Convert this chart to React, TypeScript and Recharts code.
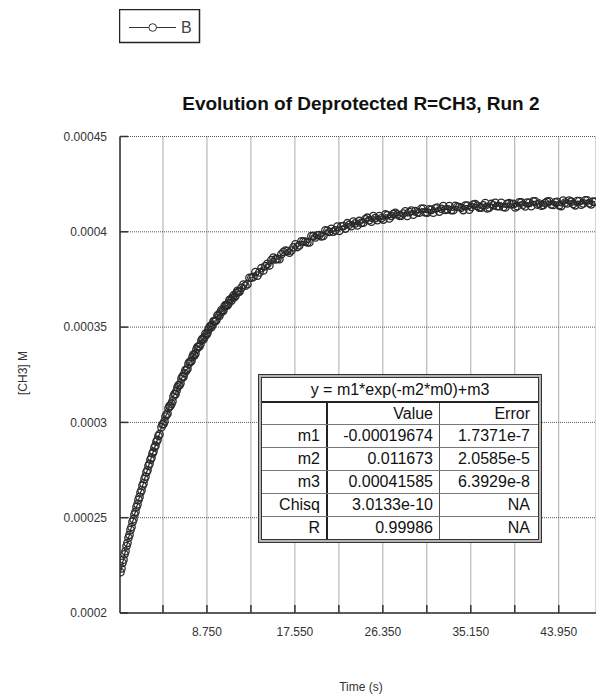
import React from 'react';
import { LineChart, Line, XAxis, YAxis, CartesianGrid } from 'recharts';

// [CH3] (micro-molar) against time (s).
// Pass A: the coarser sampling; pass B: the readings that fall in between.
const timeA = [
  0.1, 0.2, 0.3, 0.4, 0.5, 0.6, 0.7, 0.8, 0.9, 1.0,
  1.1, 1.2, 1.3, 1.4, 1.5, 1.6, 1.7, 1.8, 1.9, 2.0,
  2.1, 2.2, 2.3, 2.4, 2.5, 2.6, 2.7, 2.8, 2.9, 3.0,
  3.1, 3.2, 3.3, 3.4, 3.5, 3.6, 3.7, 3.8, 3.9, 4.0,
  4.2, 4.4, 4.6, 4.8, 5.0, 5.2, 5.4, 5.6, 5.8, 6.0,
  6.2, 6.4, 6.6, 6.8, 7.0, 7.2, 7.4, 7.6, 7.8, 8.0,
  8.2, 8.4, 8.6, 8.8, 9.0, 9.2, 9.4, 9.6, 9.8, 10.0,
  10.2, 10.4, 10.6, 10.8, 11.0, 11.2, 11.4, 11.6, 11.8, 12.0,
  12.4, 12.8, 13.2, 13.6, 14.0, 14.4, 14.8, 15.2, 15.6, 16.0,
  16.4, 16.8, 17.2, 17.6, 18.0, 18.4, 18.8, 19.2, 19.6, 20.0,
  20.4, 20.8, 21.2, 21.6, 22.0, 22.4, 22.8, 23.2, 23.6, 24.0,
  24.4, 24.8, 25.2, 25.6, 26.0, 26.4, 26.8, 27.2, 27.6, 28.0,
  28.4, 28.8, 29.2, 29.6, 30.0, 30.4, 30.8, 31.2, 31.6, 32.0,
  32.4, 32.8, 33.2, 33.6, 34.0, 34.4, 34.8, 35.2, 35.6, 36.0,
  36.4, 36.8, 37.2, 37.6, 38.0, 38.4, 38.8, 39.2, 39.6, 40.0,
  40.4, 40.8, 41.2, 41.6, 42.0, 42.4, 42.8, 43.2, 43.6, 44.0,
  44.4, 44.8, 45.2, 45.6, 46.0, 46.4, 46.8, 47.2, 47.6,
];

const concA = [
  221.4, 223.4, 226.3, 228.0, 230.8, 232.4, 235.1, 236.8, 239.5, 241.0,
  243.6, 245.1, 247.8, 249.2, 251.7, 253.1, 255.6, 257.0, 259.4, 260.8,
  263.2, 264.4, 266.8, 268.0, 270.3, 271.6, 273.9, 274.9, 277.2, 278.3,
  280.5, 281.5, 283.7, 284.7, 286.9, 287.8, 289.9, 290.8, 292.9, 293.8,
  297.5, 299.2, 303.1, 304.6, 308.5, 309.8, 313.6, 314.8, 318.4, 319.5,
  323.0, 323.9, 327.5, 328.2, 331.7, 332.3, 335.6, 336.1, 339.5, 339.9,
  343.1, 343.5, 346.6, 346.9, 349.9, 350.0, 353.0, 353.1, 356.0, 355.9,
  358.9, 358.8, 361.6, 361.4, 364.2, 363.9, 366.6, 366.3, 369.0, 368.6,
  372.3, 372.5, 375.9, 378.9, 378.7, 379.7, 383.2, 385.2, 385.5, 385.6,
  389.4, 389.9, 390.2, 393.4, 392.9, 394.9, 394.4, 397.8, 397.0, 398.3,
  397.8, 400.5, 401.6, 400.8, 400.5, 403.0, 404.5, 402.9, 404.4, 405.7,
  404.8, 407.4, 405.3, 407.2, 408.2, 406.4, 408.7, 408.3, 410.0, 408.4,
  409.6, 408.3, 411.1, 410.9, 410.0, 412.2, 410.1, 411.5, 412.3, 410.6,
  413.5, 411.8, 411.4, 413.6, 413.0, 411.4, 413.8, 413.0, 414.5, 412.7,
  413.9, 412.3, 414.6, 415.2, 413.4, 413.0, 414.7, 414.4, 412.8, 415.5,
  414.2, 415.3, 413.4, 416.0, 414.8, 414.0, 415.8, 414.3, 415.5, 413.9,
  416.4, 414.9, 415.8, 413.9, 416.1, 414.9, 416.5, 414.4, 415.7,
];

const timeB = [
  4.3, 4.5, 4.7, 4.9, 5.1, 5.3, 5.5, 5.7, 5.9, 6.1,
  6.3, 6.5, 6.7, 6.9, 7.1, 7.3, 7.5, 7.7, 7.9, 8.1,
  8.3, 8.5, 8.7, 8.9, 9.1, 9.3, 9.5, 9.7, 9.9, 10.1,
  10.3, 10.5, 10.7, 10.9, 11.1, 11.3, 11.5, 11.7, 11.9, 12.2,
  12.6, 13.0, 13.4, 13.8, 14.2, 14.6, 15.0, 15.4, 15.8, 16.2,
  16.6, 17.0, 17.4, 17.8, 18.2, 18.6, 19.0, 19.4, 19.8, 20.2,
  20.6, 21.0, 21.4, 21.8, 22.2, 22.6, 23.0, 23.4, 23.8, 24.2,
  24.6, 25.0, 25.4, 25.8, 26.2, 26.6, 27.0, 27.4, 27.8, 28.2,
  28.6, 29.0, 29.4, 29.8, 30.2, 30.6, 31.0, 31.4, 31.8, 32.2,
  32.6, 33.0, 33.4, 33.8, 34.2, 34.6, 35.0, 35.4, 35.8, 36.2,
  36.6, 37.0, 37.4, 37.8, 38.2, 38.6, 39.0, 39.4, 39.8, 40.2,
  40.6, 41.0, 41.4, 41.8, 42.2, 42.6, 43.0, 43.4, 43.8, 44.2,
  44.6, 45.0, 45.4, 45.8, 46.2, 46.6, 47.0, 47.4,
];

const concB = [
  298.9, 300.5, 304.1, 307.4, 308.8, 311.1, 314.9, 316.5, 319.4, 320.5,
  324.1, 325.8, 327.3, 330.7, 331.7, 334.3, 335.2, 338.4, 339.7, 341.0,
  343.9, 344.8, 346.0, 348.7, 350.7, 351.1, 353.1, 353.7, 356.5, 357.7,
  358.2, 360.8, 361.4, 362.3, 364.6, 365.4, 365.7, 368.0, 368.5, 370.6,
  371.7, 375.9, 376.3, 377.0, 380.9, 382.0, 382.3, 386.5, 385.8, 388.2,
  390.1, 389.1, 391.9, 392.0, 395.0, 394.8, 394.4, 397.7, 398.2, 397.6,
  400.8, 399.9, 400.1, 402.7, 402.9, 401.7, 403.7, 405.4, 403.3, 404.7,
  406.6, 406.1, 408.2, 406.1, 407.1, 409.1, 407.0, 409.3, 409.1, 408.4,
  410.7, 410.3, 409.0, 410.2, 412.1, 410.2, 411.8, 410.0, 412.7, 412.1,
  411.5, 413.5, 411.3, 413.1, 412.6, 413.8, 411.6, 414.3, 413.6, 412.7,
  415.1, 412.7, 413.9, 413.4, 415.2, 412.8, 415.0, 414.7, 413.4, 415.4,
  413.3, 415.2, 416.0, 414.3, 413.7, 415.1, 416.0, 414.1, 415.7, 413.5,
  415.3, 416.4, 414.6, 416.1, 414.2, 416.5, 415.0, 415.8,
];

const xTicks = [4.35, 8.75, 13.15, 17.55, 21.95, 26.35, 30.75, 35.15, 39.55, 43.95];
const xTickLabels = ['', '8.750', '', '17.550', '', '26.350', '', '35.150', '', '43.950'];
const yTicks = [200, 250, 300, 350, 400, 450];
const yTickLabels = ['0.0002', '0.00025', '0.0003', '0.00035', '0.0004', '0.00045'];

const fitEquation = 'y = m1*exp(-m2*m0)+m3';
const fitHeaders = ['', 'Value', 'Error'];
const fitNames = ['m1', 'm2', 'm3', 'Chisq', 'R'];
const fitValues = ['-0.00019674', '0.011673', '0.00041585', '3.0133e-10', '0.99986'];
const fitErrors = ['1.7371e-7', '2.0585e-5', '6.3929e-8', 'NA', 'NA'];

const data = [
  ...timeA.map((t, i) => ({ t, conc: concA[i] })),
  ...timeB.map((t, i) => ({ t, conc: concB[i] })),
].sort((a, b) => a.t - b.t);

const FONT = '"Liberation Sans", Arial, Helvetica, sans-serif';
const INK = '#333';

function BottomTick({ x, y, payload }: any) {
  const i = xTicks.findIndex((v) => Math.abs(v - payload.value) < 1e-6);
  const axisY = y - 19;
  return (
    <g>
      <line x1={x} x2={x} y1={axisY} y2={axisY - 8} stroke={INK} strokeWidth={1.5} />
      {xTickLabels[i] ? (
        <text x={x} y={y} dy="0.355em" textAnchor="middle" fontSize={12} fill={INK} fontFamily={FONT}>
          {xTickLabels[i]}
        </text>
      ) : null}
    </g>
  );
}

function TopTick({ x, y }: any) {
  return <line x1={x} x2={x} y1={y} y2={y + 8} stroke={INK} strokeWidth={1.5} />;
}

function LeftTick({ x, y, payload }: any) {
  const i = yTicks.indexOf(payload.value);
  const axisX = x + 13;
  return (
    <g>
      <line x1={axisX} x2={axisX + 8} y1={y} y2={y} stroke={INK} strokeWidth={1.5} />
      <text x={x} y={y} dy="0.355em" textAnchor="end" fontSize={12} fill={INK} fontFamily={FONT}>
        {yTickLabels[i]}
      </text>
    </g>
  );
}

function FitTable() {
  const cellW = [66, 112, 98];
  const rows = [fitHeaders, ...fitNames.map((n, i) => [n, fitValues[i], fitErrors[i]])];
  return (
    <div
      style={{
        position: 'absolute',
        left: 250,
        top: 366,
        border: '1px solid #333',
        padding: 2,
        background: '#b4b4b4',
      }}
    >
      <div style={{ border: '1px solid #333', background: '#fff', width: 276, fontSize: 16, color: '#111' }}>
        <div
          style={{
            boxSizing: 'border-box',
            height: 25,
            lineHeight: '23px',
            textAlign: 'center',
            borderBottom: '2px solid #222',
          }}
        >
          {fitEquation}
        </div>
        {rows.map((r, ri) => {
          const last = ri === rows.length - 1;
          return (
            <div
              key={ri}
              style={{
                boxSizing: 'border-box',
                display: 'flex',
                height: ri === 0 || last ? 22 : 23,
                lineHeight: ri === 0 ? '21px' : '22px',
                borderBottom: last ? 'none' : '1px solid #777',
              }}
            >
              {r.map((text, ci) => (
                <div
                  key={ci}
                  style={{
                    boxSizing: 'border-box',
                    width: cellW[ci],
                    height: '100%',
                    textAlign: 'right',
                    paddingRight: ci === 2 ? 8 : 6,
                    borderRight: ci === 0 ? '2px solid #222' : ci === 1 ? '1px solid #555' : 'none',
                  }}
                >
                  {text}
                </div>
              ))}
            </div>
          );
        })}
      </div>
    </div>
  );
}

export default function App() {
  return (
    <div
      style={{
        position: 'fixed',
        left: 0,
        top: 0,
        width: 596,
        height: 694,
        overflow: 'hidden',
        background: '#fff',
        fontFamily: FONT,
        color: '#111',
      }}
    >
      <div style={{ position: 'absolute', left: 8, top: 8, width: 588, height: 686 }}>
        <svg style={{ position: 'absolute', left: 111, top: 1 }} width={82} height={35}>
          <rect x={0.5} y={0.5} width={80} height={33} fill="#fff" stroke="#222" strokeWidth={1.5} />
          <line x1={10} x2={57} y1={18.5} y2={18.5} stroke={INK} />
          <circle cx={33.7} cy={18.5} r={3.8} fill="#fff" stroke={INK} />
          <text x={62} y={24} fontSize={16} fill="#444" fontFamily={FONT}>B</text>
        </svg>

        <div
          style={{
            position: 'absolute',
            left: 352.9,
            top: 94.5,
            transform: 'translate(-50%, -50%)',
            fontSize: 19,
            lineHeight: '19px',
            fontWeight: 'bold',
            whiteSpace: 'nowrap',
            color: '#111',
          }}
        >
          Evolution of Deprotected R=CH3, Run 2
        </div>

        <div style={{ position: 'absolute', top: 0, left: 0 }}>
          <LineChart width={588} height={640} data={data} margin={{ top: 128.5, right: 0, bottom: 5, left: 0 }}>
            <CartesianGrid stroke="#555" strokeDasharray="1 1" />
            <XAxis
              xAxisId={0}
              dataKey="t"
              type="number"
              domain={[0.05, 47.68]}
              allowDataOverflow
              ticks={xTicks}
              interval={0}
              height={30}
              tickSize={0}
              tickMargin={19}
              axisLine={{ stroke: INK, strokeWidth: 1.5 }}
              tickLine={false}
              tick={<BottomTick />}
            />
            <XAxis
              xAxisId="top"
              orientation="top"
              dataKey="t"
              type="number"
              domain={[0.05, 47.68]}
              allowDataOverflow
              ticks={xTicks}
              interval={0}
              height={0}
              tickSize={0}
              tickMargin={0}
              axisLine={{ stroke: INK, strokeWidth: 1.5 }}
              tickLine={false}
              tick={<TopTick />}
            />
            <YAxis
              type="number"
              domain={[200, 450]}
              allowDataOverflow
              ticks={yTicks}
              interval={0}
              width={112}
              tickSize={0}
              tickMargin={13}
              axisLine={{ stroke: INK, strokeWidth: 1.5 }}
              tickLine={false}
              tick={<LeftTick />}
            />
            <Line
              dataKey="conc"
              type="linear"
              stroke="#2a2a2a"
              strokeWidth={1.2}
              dot={{ r: 3.7, stroke: '#2a2a2a', strokeWidth: 1.3, fill: 'none' }}
              activeDot={false}
              isAnimationActive={false}
            />
          </LineChart>
        </div>

        <FitTable />

        <div
          style={{
            position: 'absolute',
            left: 14.8,
            top: 364.5,
            transform: 'translate(-50%, -50%) rotate(-90deg)',
            fontSize: 12,
            lineHeight: '12px',
            whiteSpace: 'nowrap',
            color: INK,
          }}
        >
          [CH3] M
        </div>

        <div
          style={{
            position: 'absolute',
            left: 353,
            top: 678.5,
            transform: 'translate(-50%, -50%)',
            fontSize: 12,
            lineHeight: '12px',
            whiteSpace: 'nowrap',
            color: INK,
          }}
        >
          Time (s)
        </div>
      </div>
    </div>
  );
}
